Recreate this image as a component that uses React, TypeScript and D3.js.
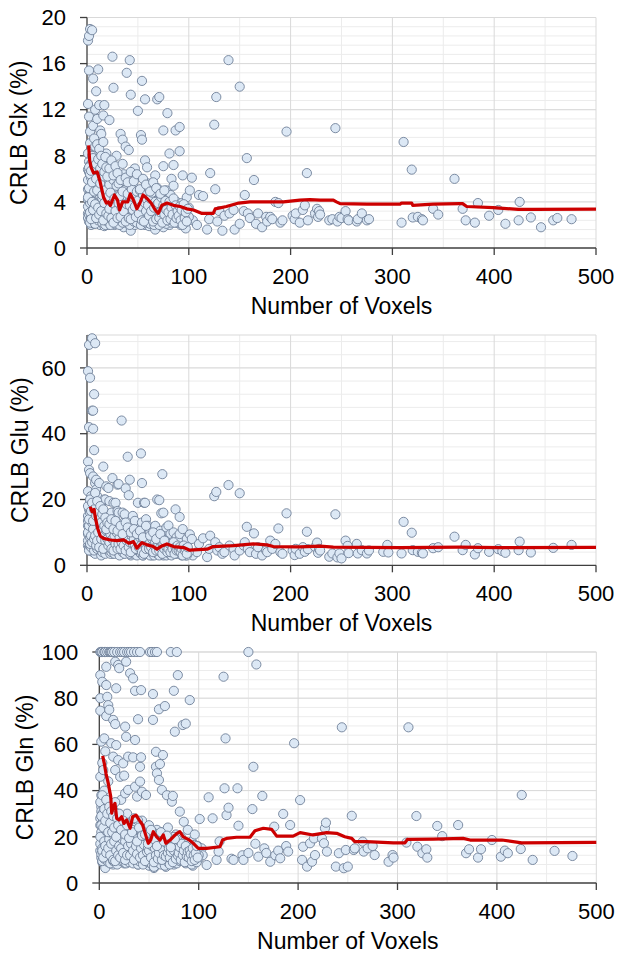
import React from 'react';
import * as d3 from 'd3';

// ---- shared sample data: number of voxels per sample and CRLB (%) per metabolite ----
const voxels = [
  1, 1, 1, 1, 1, 1, 1, 2, 2, 2,
  2, 2, 2, 3, 3, 3, 3, 3, 3, 4,
  4, 4, 4, 4, 5, 5, 5, 5, 5, 5,
  6, 6, 6, 6, 6, 7, 7, 7, 7, 7,
  8, 8, 8, 8, 9, 9, 9, 9, 10, 10,
  10, 10, 11, 11, 11, 12, 12, 12, 12, 13,
  13, 13, 14, 14, 14, 14, 15, 15, 16, 16,
  16, 16, 17, 17, 17, 17, 18, 18, 18, 19,
  19, 19, 20, 20, 20, 21, 21, 21, 22, 22,
  22, 23, 23, 24, 24, 25, 25, 25, 26, 26,
  26, 27, 27, 27, 28, 28, 29, 29, 29, 30,
  30, 30, 31, 31, 32, 32, 33, 33, 34, 34,
  35, 35, 36, 36, 36, 37, 38, 38, 38, 39,
  39, 40, 40, 41, 41, 41, 42, 42, 43, 43,
  44, 45, 45, 46, 47, 47, 48, 49, 50, 50,
  51, 52, 53, 53, 54, 54, 54, 55, 56, 56,
  57, 57, 57, 58, 58, 59, 59, 60, 60, 61,
  61, 62, 63, 64, 64, 65, 66, 67, 67, 68,
  69, 69, 70, 71, 71, 72, 73, 73, 74, 75,
  75, 75, 76, 77, 78, 79, 79, 80, 81, 81,
  82, 83, 84, 85, 85, 86, 87, 87, 88, 89,
  90, 91, 91, 92, 93, 94, 95, 96, 97, 98,
  99, 100, 101, 103, 104, 108, 110, 114, 118, 120,
  121, 125, 126, 127, 128, 130, 133, 135, 139, 140,
  144, 145, 150, 150, 154, 155, 157, 158, 160, 164,
  166, 168, 172, 176, 177, 180, 182, 185, 188, 190,
  192, 196, 202, 204, 205, 209, 212, 214, 216, 217,
  224, 226, 227, 228, 229, 238, 241, 244, 246, 248,
  250, 254, 256, 257, 265, 266, 270, 275, 277, 291,
  295, 296, 309, 311, 319, 320, 325, 329, 330, 340,
  345, 361, 369, 372, 381, 384, 395, 404, 408, 411,
  424, 425, 436, 446, 458, 462, 476,
  // dense core of small regions
  1, 1, 2, 2, 2, 3, 3, 3, 4, 4,
  4, 5, 5, 5, 6, 6, 6, 7, 7, 8,
  8, 8, 9, 9, 9, 10, 10, 10, 11, 11,
  12, 12, 13, 13, 13, 14, 14, 15, 15, 15,
  16, 16, 17, 17, 18, 18, 18, 19, 19, 20,
  20, 21, 21, 22, 22, 23, 23, 23, 24, 24,
  24, 25, 25, 26, 26, 27, 27, 28, 28, 28,
  29, 29, 30, 30, 31, 31, 32, 32, 33, 34,
  34, 35, 35, 36, 37, 37, 38, 39, 39, 40,
  40, 41, 42, 42, 43, 43, 44, 44, 45, 45,
  46, 46, 47, 48, 48, 49, 49, 50, 50, 51,
  52, 52, 53, 54, 55, 55, 56, 57, 58, 58,
  59, 60, 61, 62, 62, 63, 64, 65, 66, 66,
  67, 68, 69, 70, 71, 72, 73, 74, 74, 75,
  76, 77, 78, 79, 80, 81, 82, 83, 85, 86,
  88, 89, 90, 91, 93, 94, 95, 96, 98, 100,
  1, 2, 3, 3, 4, 5, 5, 6, 7, 7,
  8, 9, 9, 10, 11, 11, 12, 13, 14, 14,
  15, 16, 17, 17, 18, 19, 20, 20, 21, 22,
  22, 23, 24, 25, 26, 26, 27, 28, 29, 30,
  31, 31, 32, 33, 34, 35, 36, 37, 38, 39,
  40, 41, 42, 43, 44, 45, 46, 47, 48, 49,
  50, 51, 52, 53, 54, 55, 56, 57, 58, 59,
  60, 61, 62, 63, 64, 65, 66, 67, 68, 69,
  70, 71, 72, 73, 74, 75, 76, 77, 78, 79,
  80, 81, 82, 83, 84, 85, 86, 87, 88, 89,
  90, 91, 92, 93, 94, 95, 96, 97, 98, 99,
  1, 2, 3, 4, 5, 6, 7, 8, 9, 10,
  11, 12, 13, 14, 15, 16, 17, 18, 19, 20,
  22, 24, 26, 28, 30, 33, 35, 38, 40, 43,
  46, 49, 52, 55, 58, 62, 65, 68, 72, 76,
];

const glx: (number | null)[] = [
  18.0, 12.5, 4.2, 3.0, 6.8, 2.6, 5.1, 18.4, 15.4, 11.4,
  3.6, 2.3, 7.5, 19.0, 10.1, 4.8, 2.9, 6.0, 3.3, 8.9,
  5.5, 3.1, 2.0, 4.0, 18.9, 8.5, 3.8, 2.4, 6.3, 4.5,
  14.7, 10.6, 3.5, 2.7, 5.2, 8.0, 4.4, 3.0, 2.1, 6.5,
  12.0, 4.9, 3.4, 2.5, 13.6, 5.8, 3.7, 2.2, 11.2, 8.3,
  4.1, 2.8, 15.5, 3.2, 5.0, 12.4, 4.6, 2.6, 3.9, 10.2,
  2.0, 6.2, 9.9, 3.5, 2.3, 4.8, 7.0, 3.0, 11.5, 4.2,
  2.5, 5.6, 7.3, 12.4, 3.3, 1.9, 6.0, 2.8, 4.0, 8.2,
  3.6, 2.2, 5.3, 2.7, 3.9, 4.5, 2.0, 6.8, 11.1, 3.1,
  4.3, 2.5, 5.8, 3.4, 2.1, 16.6, 4.7, 2.9, 13.9, 3.7,
  2.4, 6.6, 3.2, 2.0, 5.1, 2.7, 8.0, 3.5, 2.3, 4.4,
  2.9, 6.1, 3.6, 2.2, 5.0, 2.6, 9.9, 3.3, 4.1, 2.0,
  9.4, 2.8, 6.4, 3.9, 1.8, 2.4, 8.8, 3.1, 4.7, 15.2,
  2.5, 3.7, 2.1, 8.5, 3.0, 5.3, 16.3, 2.7, 13.3, 1.5,
  4.2, 5.4, 2.3, 3.4, 6.9, 2.0, 4.0, 2.9, 11.9, 3.2,
  2.4, 4.6, 9.8, 2.2, 14.5, 9.4, 3.5, 2.6, 5.0, 3.0,
  12.9, 7.6, 2.0, 4.3, 2.7, 7.0, 3.8, 2.3, 5.6, 3.1,
  1.9, 5.4, 2.6, 3.9, 2.2, 4.5, 2.8, 6.3, 1.6, 3.3,
  12.9, 5.2, 2.5, 13.1, 3.6, 2.1, 4.2, 2.7, 3.0, 10.2,
  7.1, 1.8, 3.8, 2.4, 5.0, 11.7, 2.9, 3.5, 8.2, 2.0,
  4.6, 6.0, 2.6, 7.2, 5.4, 3.2, 10.2, 2.2, 4.0, 2.7,
  3.6, 10.5, 8.4, 2.0, 3.9, 6.3, 2.5, 3.1, 1.7, 4.4,
  2.8, 3.5, 5.0, 6.1, 2.4, 2.0, 4.6, 4.5, 1.6, 2.5,
  6.5, 10.7, 5.1, 13.1, 2.3, 3.2, 1.5, 2.8, 16.3, 3.0,
  3.3, 1.6, 14.0, 2.1, 3.2, 4.6, 7.8, 3.0, 2.6, 5.9,
  2.1, 3.0, 1.8, 2.7, 2.3, 2.7, 2.5, 4.0, 3.9, 2.2,
  2.4, 10.1, 2.8, 2.5, 3.0, 2.2, 3.3, 3.7, 6.5, 2.4,
  3.0, 3.4, 2.7, 3.2, 2.9, 2.4, 2.5, 10.4, 2.3, 2.7,
  2.6, 3.2, 2.5, 2.4, 2.3, 2.5, 3.0, 2.4, 2.5, null,
  null, null, 2.2, 9.2, 6.8, 2.65, 2.7, 2.5, 2.4, 3.4,
  2.9, 6.0, 3.4, 2.4, 2.2, 3.9, 2.8, 3.3, null, 2.1,
  2.4, 4.0, 2.65, 1.8, 2.4, 2.6, 2.5,
  // dense core
  3.6, 5.9, 2.9, 4.6, 6.6, 2.2, 3.9, 7.2, 2.7, 6.1,
  4.8, 3.2, 5.6, 7.4, 2.4, 4.1, 6.9, 3.7, 5.4, 2.1,
  4.4, 6.2, 2.9, 5.1, 7.0, 3.3, 4.7, 6.4, 2.4, 4.0,
  5.4, 3.0, 2.6, 4.5, 7.1, 3.8, 5.9, 2.2, 4.3, 6.5,
  3.5, 4.9, 2.7, 5.5, 2.0, 3.4, 4.8, 2.9, 6.3, 4.2,
  2.3, 3.6, 5.2, 2.6, 4.0, 3.1, 4.6, 2.0, 3.8, 5.6,
  2.5, 3.3, 4.2, 2.9, 5.3, 3.6, 2.3, 4.5, 3.0, 2.1,
  4.1, 2.7, 3.4, 5.0, 2.4, 4.6, 3.2, 2.0, 4.3, 3.0,
  4.8, 2.2, 3.7, 2.9, 4.0, 2.5, 3.5, 5.2, 2.8, 4.4,
  2.4, 3.3, 4.1, 2.0, 3.6, 5.0, 2.6, 3.9, 3.1, 4.5,
  2.3, 4.2, 3.0, 2.5, 3.8, 4.7, 2.2, 3.5, 2.8, 4.0,
  2.6, 3.4, 2.0, 4.2, 3.1, 2.4, 3.7, 2.9, 4.5, 2.2,
  3.3, 2.6, 3.9, 2.1, 3.0, 4.4, 2.5, 3.4, 2.0, 3.8,
  2.7, 3.6, 2.3, 3.2, 2.0, 4.1, 2.9, 3.5, 2.4, 3.0,
  2.6, 3.3, 2.1, 3.9, 2.8, 2.4, 3.6, 2.2, 3.0, 2.5,
  2.9, 2.2, 3.4, 2.6, 2.1, 3.1, 2.4, 2.8, 2.3, 2.7,
  4.4, 5.2, 3.1, 6.4, 2.5, 4.0, 5.7, 3.3, 4.9, 7.6,
  3.8, 2.6, 6.0, 5.0, 3.5, 6.8, 2.9, 5.6, 3.2, 7.4,
  4.6, 2.4, 3.9, 6.2, 5.0, 3.0, 4.4, 6.7, 2.8, 5.5,
  3.4, 4.8, 2.6, 3.9, 5.9, 2.2, 4.3, 3.2, 5.4, 2.6,
  3.9, 5.6, 4.5, 2.7, 3.5, 4.9, 3.2, 5.8, 2.3, 3.8,
  4.7, 2.6, 3.7, 2.5, 5.1, 3.3, 4.4, 3.6, 2.7, 4.9,
  4.1, 3.0, 5.0, 3.6, 2.4, 4.6, 2.3, 3.9, 3.2, 4.2,
  3.7, 2.8, 4.3, 3.2, 4.8, 2.3, 3.5, 4.0, 2.5, 3.8,
  3.9, 2.6, 3.1, 4.4, 2.2, 3.7, 2.9, 4.1, 3.3, 2.4,
  3.1, 4.0, 2.5, 3.5, 2.9, 4.3, 2.2, 3.7, 2.6, 3.2,
  2.8, 3.6, 2.4, 3.3, 2.0, 3.8, 2.6, 3.1, 2.3, 3.4,
  8.2, 7.0, 9.1, 6.7, 8.0, 7.8, 9.5, 8.8, 7.3, 9.0,
  7.7, 8.6, 6.9, 8.0, 7.3, 9.2, 6.6, 7.9, 7.0, 6.2,
  6.9, 7.6, 6.3, 7.1, 6.5, 5.9, 7.3, 6.1, 5.7, 6.6,
  5.8, 6.4, 5.1, 6.0, 5.5, 4.9, 5.7, 5.2, 4.7, 5.0,
];

const glu: (number | null)[] = [
  59, 31.5, 22.5, 12, 9.5, 6, 15, 67, 42, 29,
  8, 5.5, 17, 57, 28, 11, 4.5, 14, 19, 21,
  13, 7, 6.5, 9, 69, 47, 16, 5, 10.5, 8.5,
  47, 41.5, 27, 4, 12.5, 52, 35, 9.5, 6, 20,
  67.5, 25, 8, 3.5, 26, 23, 13.5, 5, 18, 21,
  10, 6.5, 17, 7.5, 11, 25, 9, 4.5, 14, 18,
  6, 12, 18, 8.5, 3, 15.5, 13, 5.5, 30, 10,
  6.5, 7.5, 11.5, 20, 4, 5, 20, 7, 12.5, 24,
  9.5, 4, 14.5, 6, 8, 23.5, 5.5, 10.5, 19.5, 7,
  13, 4.5, 9, 16, 6, 26.5, 11, 3.5, 19, 8,
  5, 14, 6.5, 4, 19, 7.5, 12, 5, 9, 24.5,
  6, 16.5, 24.7, 16, 7, 4, 12, 5.5, 44, 9,
  16, 6.5, 13, 8, 3.5, 15.5, 23.4, 5, 10, 11.5,
  7, 33, 4.5, 21.3, 6, 12, 26, 5.5, 9.5, 3,
  8, 15, 4, 7, 13.5, 3.5, 6.5, 9, 19, 5,
  11, 7.5, 34, 4.5, 25, 13, 6, 3, 19, 8.5,
  11, 19, 5.5, 14, 4, 9.5, 6, 12, 7.5, 5,
  8, 10, 4, 6.5, 3, 9, 5.5, 12, 3.5, 7,
  20, 8, 4.5, 19.8, 6, 10.5, 15.8, 5, 27.7, 16,
  7, 3, 9, 4.5, 11.5, 8, 4, 12.1, 6.5, 3.5,
  9.5, 5.5, 7, 10, 5, 3.5, 17, 6, 8.5, 4,
  7.5, 14.7, 9.5, 3.5, 5.5, 11, 4.5, 6, 3, 8,
  5, 3.5, 9.4, 8, 3, 4, 6.5, 8.2, 2.5, 5,
  9, 21, 7, 22.3, 4.5, 5.5, 3.5, 4, 24.4, 6,
  5, 3, 21.9, 4.5, 6, 7, 11.7, 5, 4, 9.7,
  3.5, 5.5, 3, 4.5, 4, 7.5, 5, 6.5, 11.2, 4,
  3.5, 15.8, 4.5, 3.1, 5, 3.5, 5.5, 4.1, 10.2, 4.9,
  5.6, 6.9, 3.8, 5, 4.5, 2.6, 3.6, 15.5, 2.4, 3.6,
  2.1, 7.5, 5.9, 3.7, 6.5, 3.6, 4.6, 3.6, 4.5, 4.1,
  6.2, 3.9, 3.6, 13.2, 9.9, 4.6, 4.1, 3.8, 3.6, 5.2,
  5.5, 8.7, 4.6, 6.2, 3.3, 5.2, 4.1, 4.9, 4.3, 3.8,
  4.6, 7.2, 3.9, null, 5.3, null, 6.2,
  // dense core
  7.5, 13.5, 10, 4.5, 18, 8.5, 12.5, 6, 15.5, 11,
  5.5, 9.5, 14, 6.5, 8, 17.5, 11.5, 4.5, 13, 7,
  10.5, 15, 6, 12, 9, 5, 14.5, 8.5, 6.5, 12,
  7.5, 11, 5, 10, 13.5, 6, 9.5, 4, 12.5, 8,
  5.5, 9, 7.5, 11.5, 3.5, 6, 10, 8.5, 13, 5,
  7, 4.5, 9, 5.5, 11, 6.5, 8, 3.5, 10, 7.5,
  4, 6, 8.5, 5, 12, 7, 3.5, 9.5, 6, 4.5,
  8, 5.5, 7.5, 10.5, 4, 9, 6, 3, 11, 5.5,
  7, 4, 8.5, 5.5, 9.5, 3.5, 6.5, 10, 5, 7.5,
  4.5, 6, 8, 3.5, 7, 9.5, 5, 6.5, 4, 8.5,
  3.5, 7.5, 5.5, 4, 6.5, 8, 3, 6, 4.5, 7,
  4, 5.5, 3.5, 7, 5, 3, 6.5, 4.5, 8, 3.5,
  5, 3.5, 6, 3, 4.5, 7.5, 4, 5.5, 3, 6.5,
  4.5, 6, 3.5, 5, 3, 7, 4, 5.5, 3.5, 4.5,
  4, 5.5, 3, 6.5, 4.5, 3.5, 5, 3, 4.5, 4,
  5, 3.5, 4.5, 4, 3, 5.5, 3.5, 4.5, 3, 4,
  10, 12, 6.5, 16, 9, 13, 7, 11, 15, 8,
  9, 6, 13.5, 7.5, 10, 14, 5.5, 12, 8, 15,
  11, 5, 9, 13, 7.5, 10.5, 8, 12.5, 6, 10,
  7, 9.5, 5, 8, 11.5, 4.5, 9, 6.5, 10, 5,
  6.5, 11, 8.5, 5, 7, 9.5, 6, 10.5, 4.5, 7.5,
  8.5, 5.5, 7, 4, 9, 6.5, 8, 6, 5, 9.5,
  7, 5.5, 8.5, 6, 4, 8, 3.5, 6.5, 5, 7.5,
  6.5, 5, 7.5, 5.5, 8, 4, 6, 7, 4.5, 6,
  6, 4.5, 5.5, 7, 3.5, 6.5, 5, 7.5, 5.5, 4,
  5, 6.5, 4, 6, 5, 7, 3.5, 5.5, 4.5, 6,
  4.5, 5.5, 4, 5, 3, 6, 4.5, 5, 3.5, 5.5,
  18, 14, 20, 16.5, 19, 13.5, 17, 22, 15, 19.5,
  16, 14, 18, 13, 15.5, 17, 12, 14.5, 11, 13,
  12.5, 14, 11, 13.5, 10.5, 12, 9.5, 13, 11.5, 10,
  11, 9.5, 10.5, 8.5, 12, 9, 10, 8, 9.5, 7.5,
];

const gln: (number | null)[] = [
  100, 90, 80, 74.6, 25, 14, 46, 100, 61.2, 38,
  20, 11, 33, 100, 87.1, 18, 9, 27, 52, 48.9,
  23, 15, 12, 31, 100, 62.6, 40, 8.5, 22, 17,
  100, 57, 36, 6.5, 19, 93.6, 72.3, 13, 10, 85.7,
  100, 80.6, 16, 11.5, 77, 44, 28, 9.5, 75, 100,
  21, 14.5, 100, 12.5, 24, 100, 60.5, 18, 26, 100,
  10.5, 33, 70.6, 54.7, 8, 15, 100, 12, 68.8, 48.9,
  22, 95.8, 84.3, 59.7, 13, 9, 100, 17, 30, 94.4,
  53.2, 11, 93, 20, 14, 46, 100, 25, 16, 10,
  36, 100, 19, 51.8, 12.5, 46.5, 100, 8.5, 67.7, 38.8,
  15.5, 95.8, 63.3, 22, 100, 13.5, 54.7, 40.3, 10.5, 100,
  18, 27, 90.8, 14, 100, 9.5, 21, 16.5, 88.6, 54.4,
  100, 12, 83.2, 61.9, 41.7, 24, 37.4, 100, 11, 70.9,
  8, 26, 15, 100, 50.3, 43.9, 83.5, 54.4, 39.5, 13,
  19, 22, 9, 17.5, 38.1, 11, 14, 24, 12, 7.5,
  100, 20, 100, 16, 81.8, 70.6, 10, 6.5, 100, 18,
  56.8, 50.3, 13.5, 100, 47.5, 21, 8.5, 44.6, 75.2, 51.5,
  12, 22, 40.3, 55.4, 9, 15, 76.6, 19, 7, 38,
  14, 24, 11, 17, 9.5, 100, 35.2, 13, 37.7, 83.2,
  18, 8, 65.5, 21, 100, 90, 12.5, 16, 30.9, 10,
  20, 14, 68.4, 26.5, 11.5, 17, 69, 8.5, 13, 23,
  9, 79.2, 15, 11, 18, 7.5, 14, 21, 9.5, 12.5,
  16, 10.5, 27.7, 15, 12, 7.8, 37.1, 28, 10, 13.6,
  18, 89.3, 41, 62.6, 29.4, 32.6, 10.5, 10, 41, 24.8,
  12, 10, 100, 13, 32, 50.3, 17, 94.6, 11.4, 37.7,
  15, 13, 9.2, 24.4, 12, 14, 10.7, 29.9, 16, 13.6,
  25.1, 60.5, 35.9, 10, 15.7, 7.1, 17.2, 9.2, 19.3, 12.1,
  19.3, 17.2, 23.7, 26.1, 13.6, 7.1, 12.9, 67.4, 6.4, 14.3,
  7.1, 29.1, 14.3, 15, 17.9, 13.6, 15, 16, 12.1, 9.2,
  12.1, 11, 17.5, 67.4, 29, 15.7, 12.9, 14.6, 11, 24.7,
  20.3, 25.1, 12.9, 14.6, 11, 14.6, 18.6, 11.4, 14, 12.9,
  14.7, 38.1, 10, null, 13.9, null, 11.7,
  // dense core
  17, 28, 12.5, 22, 31, 15, 9.5, 26, 19, 34,
  13, 24, 10.5, 29, 16.5, 21, 33, 11.5, 18.5, 14,
  23, 30, 9, 19.5, 27, 12, 16, 35, 8.5, 20.5,
  14.5, 22, 11, 17.5, 29, 9.5, 24, 13.5, 19, 31,
  10, 18, 15, 26, 8, 13, 21, 11.5, 27.5, 16.5,
  12, 24, 18.5, 9.5, 15, 20, 13.5, 28, 10.5, 17,
  14, 9, 21.5, 16, 25, 12, 8.5, 19, 30, 11,
  17, 13, 22, 9, 15.5, 26, 11.5, 19.5, 14, 8.5,
  20, 12, 16.5, 24, 10, 14.5, 18, 8, 22.5, 13,
  9.5, 16, 21, 11, 14, 27, 8, 18.5, 12.5, 23,
  13.5, 19, 10, 15, 22, 9, 12, 17.5, 25, 11.5,
  11, 16, 8, 20, 13, 7, 18, 10.5, 23, 9,
  14, 10, 17, 8, 12.5, 21, 9.5, 15, 7.5, 19,
  11, 16, 9, 13.5, 8, 18, 12, 14.5, 10, 20,
  12.5, 15, 8.5, 17, 11, 9.5, 14, 10, 13, 16,
  9.5, 12, 15, 10.5, 8, 13, 11, 16.5, 9, 12,
  20, 25, 14, 30, 11, 18, 24, 16, 27, 13,
  22, 15, 28, 19, 12, 26, 17, 33, 10, 21,
  18, 9.5, 23, 14, 27, 12, 20, 16, 11, 24,
  15, 19, 13, 22, 10, 18, 26, 12, 16, 21,
  12, 20, 17, 23, 14, 10, 19, 16, 12.5, 27,
  18, 11, 15, 21, 12, 16.5, 9.5, 20, 13.5, 15,
  14, 19, 11, 16, 22, 9, 15, 12, 17, 10.5,
  13, 16, 18.5, 10, 14.5, 12, 20, 11.5, 17, 13,
  15, 11, 13.5, 18, 9, 14, 16.5, 10.5, 19, 12,
  13, 15.5, 10, 17, 12, 14, 9, 16, 11.5, 13.5,
  11, 14, 12.5, 9.5, 15, 12, 10, 13, 16, 11,
  35, 29, 38, 24, 32, 27, 36, 30, 22, 33,
  26, 31, 22, 29, 24, 35, 20, 28, 25, 30,
  23, 27, 21, 25, 19.5, 22, 28, 18, 24, 20.5,
  21, 17, 23, 19, 16, 22, 18, 20.5, 15.5, 19,
];

// ---- running trend (red line) ----
const glxTrendX = [1.6, 2.6, 4, 6.5, 10, 13, 16.3, 19, 21, 23, 27, 30, 32, 35, 40, 42.5, 45.7, 49, 52, 55, 59, 63, 67, 70, 73.5, 78.5, 85, 91.5, 98, 104.6, 113, 124, 126, 137, 149, 160, 177, 193, 209, 219, 229, 242, 245, 248.6, 275, 307.5, 309, 319, 320, 340, 366, 369, 373, 399, 423.6, 438, 500];
const glxTrendY = [8.9, 7.6, 7.0, 6.5, 6.6, 5.7, 4.4, 3.9, 4.0, 3.7, 4.6, 4.15, 3.3, 4.0, 4.0, 4.7, 4.15, 3.4, 3.9, 4.6, 4.3, 3.9, 3.3, 3.0, 3.7, 3.9, 3.7, 3.6, 3.4, 3.3, 3.0, 3.0, 3.4, 3.6, 3.9, 4.0, 4.0, 4.0, 4.15, 4.2, 4.15, 4.15, 4.0, 3.85, 3.8, 3.8, 3.9, 3.9, 3.7, 3.8, 3.85, 3.85, 3.6, 3.5, 3.35, 3.35, 3.37];

const gluTrendX = [3.2, 5, 7, 8, 10.5, 13, 16.3, 23, 29.4, 36, 41, 45.7, 49, 54, 59, 65, 68.7, 73.6, 78.5, 85, 95, 101, 118, 124, 144, 163.5, 176.6, 183, 209, 229, 242, 307.5, 366, 405, 500];
const gluTrendY = [17.8, 16.3, 17, 14.8, 11.2, 8.9, 8.2, 7.7, 7.5, 7.7, 6.7, 7.2, 5.2, 6.9, 6.2, 5.7, 4.9, 5.9, 6.5, 5.7, 5.4, 4.6, 4.9, 5.7, 6.0, 6.5, 6.2, 5.7, 5.6, 5.8, 5.5, 5.35, 5.5, 5.35, 5.45];

const glnTrendX = [3.4, 5, 6.7, 9, 11.5, 12.5, 14, 15.8, 17.5, 20, 22.5, 24.8, 27.5, 31, 33.6, 37, 40, 43.6, 47, 49.3, 51.7, 54.3, 57.7, 61, 64.4, 67, 71, 74.4, 78, 81, 84.5, 89.5, 94.6, 99.6, 108, 121.4, 124, 128, 138, 151.6, 156.6, 165, 173.4, 178.5, 195, 202, 215, 228.8, 238.8, 247, 254, 257, 269, 295.8, 307.5, 310, 336, 366, 373, 405, 425, 500];
const glnTrendY = [55, 51.8, 47.5, 43.2, 37.4, 30.2, 33, 34.5, 28, 27.3, 28.7, 25.8, 27.3, 23.7, 28.7, 29.4, 27.3, 25.1, 20.3, 17.2, 18.6, 22.2, 20, 18.6, 20.8, 17.2, 18.5, 20, 21.5, 22.2, 20, 18.9, 17.2, 15.0, 15.0, 15.7, 18.6, 19.3, 19.8, 19.8, 22.6, 23.7, 23.2, 20.3, 20.3, 21.8, 20.8, 21.8, 21.5, 20, 19.3, 17.9, 17.9, 17.4, 17.4, 18.9, 19.0, 19.3, 18.6, 18.6, 17.4, 17.6];

// ---- axis ticks ----
const xTicks = [0, 100, 200, 300, 400, 500];
const glxTicks = [0, 4, 8, 12, 16, 20];
const gluTicks = [0, 20, 40, 60];
const glnTicks = [0, 20, 40, 60, 80, 100];

const xTitle = 'Number of Voxels';
const FONT = '"Liberation Sans", Arial, Helvetica, sans-serif';

type PanelProps = {
  values: (number | null)[];
  trendX: number[];
  trendY: number[];
  yTicks: number[];
  yMax: number;
  minorStep: number;
  title: string;
  left: number;
  right: number;
  top: number;
  bottom: number;
  titleX: number;
};

function Panel(p: PanelProps) {
  const x = d3.scaleLinear().domain([0, 500]).range([p.left, p.right]);
  const y = d3.scaleLinear().domain([0, p.yMax]).range([p.bottom, p.top]);
  const minorY = d3.range(p.minorStep, p.yMax - 1e-6, p.minorStep);
  const minorX = d3.range(50, 500, 100);
  const trend = d3
    .line<number>()
    .x((_, i) => x(p.trendX[i]))
    .y((d) => y(d))(p.trendY);
  const pts = voxels
    .map((v, i) => ({ v, c: p.values[i] }))
    .filter((d) => d.c !== null && d.c !== undefined) as { v: number; c: number }[];
  const axisColor = '#3f3f3f';
  const midY = (p.top + p.bottom) / 2;
  return (
    <g>
      {minorY.map((t) => (
        <line key={'my' + t} x1={p.left} x2={p.right} y1={y(t)} y2={y(t)} stroke="#ececec" strokeWidth={1} />
      ))}
      {minorX.map((t) => (
        <line key={'mx' + t} x1={x(t)} x2={x(t)} y1={p.top} y2={p.bottom} stroke="#ececec" strokeWidth={1} />
      ))}
      {p.yTicks.filter((t) => t > 0).map((t) => (
        <line key={'gy' + t} x1={p.left} x2={p.right} y1={y(t)} y2={y(t)} stroke="#d9d9d9" strokeWidth={1} />
      ))}
      {xTicks.filter((t) => t > 0).map((t) => (
        <line key={'gx' + t} x1={x(t)} x2={x(t)} y1={p.top} y2={p.bottom} stroke="#d9d9d9" strokeWidth={1} />
      ))}
      <line x1={p.left} x2={p.right} y1={p.top} y2={p.top} stroke="#d9d9d9" strokeWidth={1} />
      <line x1={p.left} x2={p.left} y1={p.top} y2={p.bottom} stroke={axisColor} strokeWidth={1.3} />
      <line x1={p.left} x2={p.right} y1={p.bottom} y2={p.bottom} stroke={axisColor} strokeWidth={1.3} />
      {p.yTicks.map((t) => (
        <g key={'ty' + t}>
          <line x1={p.left - 7} x2={p.left} y1={y(t)} y2={y(t)} stroke={axisColor} strokeWidth={1.3} />
          <text x={p.left - 21} y={y(t)} dy="0.35em" textAnchor="end" fontSize={22} fontFamily={FONT} fill="#000">
            {t}
          </text>
        </g>
      ))}
      {xTicks.map((t) => (
        <g key={'tx' + t}>
          <line x1={x(t)} x2={x(t)} y1={p.bottom} y2={p.bottom + 7} stroke={axisColor} strokeWidth={1.3} />
          <text x={x(t)} y={p.bottom + 36} textAnchor="middle" fontSize={22} fontFamily={FONT} fill="#000">
            {t}
          </text>
        </g>
      ))}
      {pts.map((d, i) => (
        <circle key={'p' + i} cx={x(d.v)} cy={y(d.c)} r={4.6} fill="#dce8f5" stroke="#6f8099" strokeWidth={0.9} />
      ))}
      <path d={trend || ''} fill="none" stroke="#cc0000" strokeWidth={3.2} strokeLinejoin="round" />
      <text x={(p.left + p.right) / 2} y={p.bottom + 66} textAnchor="middle" fontSize={23} fontFamily={FONT} fill="#000">
        {xTitle}
      </text>
      <text
        transform={`translate(${p.titleX},${midY}) rotate(-90)`}
        textAnchor="middle"
        fontSize={23}
        fontFamily={FONT}
        fill="#000"
      >
        {p.title}
      </text>
    </g>
  );
}

export default function App() {
  return (
    <svg
      width={624}
      height={959}
      viewBox="0 0 624 959"
      style={{ position: 'absolute', left: 0, top: 0, background: '#fff' }}
    >
      <rect x={0} y={0} width={624} height={959} fill="#fff" />
      <Panel
        values={glx}
        trendX={glxTrendX}
        trendY={glxTrendY}
        yTicks={glxTicks}
        yMax={20}
        minorStep={0.8}
        title="CRLB Glx (%)"
        left={87}
        right={596}
        top={17.5}
        bottom={248}
        titleX={27}
      />
      <Panel
        values={glu}
        trendX={gluTrendX}
        trendY={gluTrendY}
        yTicks={gluTicks}
        yMax={70}
        minorStep={4}
        title="CRLB Glu (%)"
        left={87}
        right={596}
        top={335}
        bottom={565.3}
        titleX={27.5}
      />
      <Panel
        values={gln}
        trendX={glnTrendX}
        trendY={glnTrendY}
        yTicks={glnTicks}
        yMax={100}
        minorStep={4}
        title="CRLB Gln (%)"
        left={99.3}
        right={596.3}
        top={652}
        bottom={883}
        titleX={32.5}
      />
    </svg>
  );
}
